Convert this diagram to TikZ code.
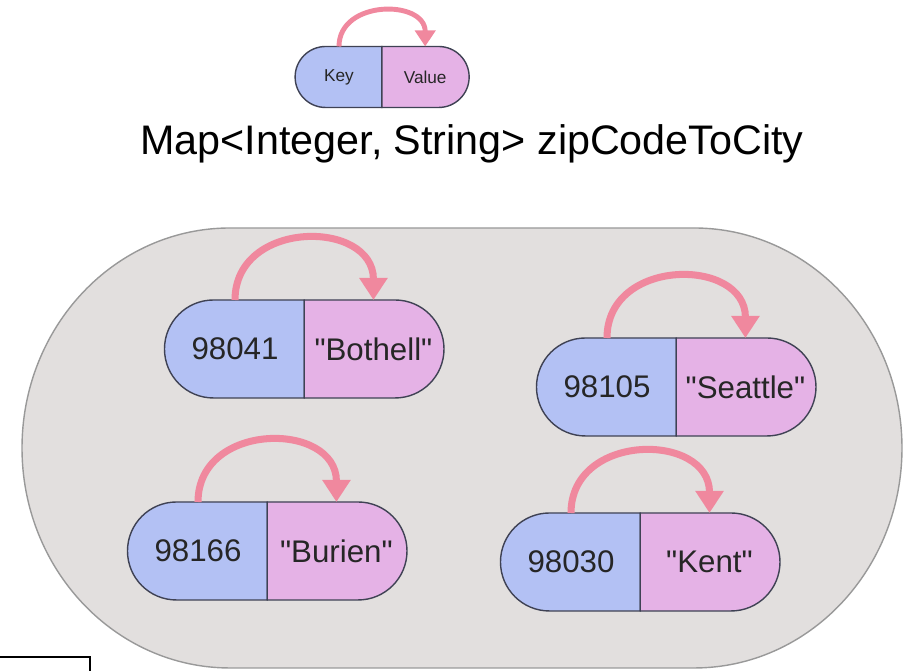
\documentclass[tikz,border=0pt]{standalone}
\usepackage{fontspec}
\setmainfont{Liberation Sans}
\usepackage{xcolor}
\usetikzlibrary{shapes.misc,arrows.meta,positioning}

\definecolor{keyblue}{HTML}{B3C1F4}
\definecolor{valpink}{HTML}{E5B2E6}
\definecolor{pillline}{HTML}{3F4254}
\definecolor{mapgray}{HTML}{E2DFDE}
\definecolor{hookpink}{HTML}{F0889E}

\newcommand{\qt}[1]{\textquotedbl#1\textquotedbl}

\begin{document}
\begin{tikzpicture}[x=0.02cm,y=0.02cm,
		half/.style={rounded rectangle,draw=pillline,line width=0.8pt,outer sep=0pt,
			minimum width=3.03cm,minimum height=1.96cm,text=black!85,
			font=\fontsize{17.8}{20}\selectfont},
		keyhalf/.style={half,fill=keyblue,rounded rectangle right arc=none},
		valhalf/.style={half,fill=valpink,rounded rectangle left arc=none},
		hook/.style={hookpink,line width=4pt,-{Triangle[width=0.54cm,length=0.44cm]},
			out=90,in=90,looseness=1.5}]
		\clip (0,0) rectangle (904,671);
		\node[keyhalf,minimum width=1.97cm,minimum height=1.22cm,font=\fontsize{9.8}{12}\selectfont] (k0) at (339,594) {Key};
		\node[valhalf,minimum width=1.98cm,minimum height=1.22cm,font=\fontsize{9.8}{12}\selectfont,right=0pt of k0] (v0) {Value};
		\draw[hook,line width=2.8pt,-{Triangle[width=0.4cm,length=0.32cm]},looseness=1.4] (k0.north) to (v0.north);
		\node (title) at (472,527) {\fontsize{23.5}{27}\selectfont Map<Integer, String> zipCodeToCity};
		\draw[draw=black!40,fill=mapgray,line width=0.8pt] (230,443) -- (694,443)
			arc[start angle=90,end angle=-90,x radius=208,y radius=220] -- (230,3)
			arc[start angle=270,end angle=90,x radius=208,y radius=220] -- cycle;
		\draw[line width=1.2pt,fill=white] (-5,-10) rectangle (90,14);
		\node[keyhalf] (k1) at (235,322) {98041};
		\node[valhalf,right=0pt of k1] (v1) {\qt{Bothell}};
		\node[keyhalf] (k2) at (607,284) {98105};
		\node[valhalf,right=0pt of k2] (v2) {\qt{Seattle}};
		\node[keyhalf] (k3) at (198,120) {98166};
		\node[valhalf,right=0pt of k3] (v3) {\qt{Burien}};
		\node[keyhalf] (k4) at (571,109) {98030};
		\node[valhalf,right=0pt of k4] (v4) {\qt{Kent}};
		\foreach \i in {1,...,4}
			\draw[hook] (k\i.north) to (v\i.north);
	\end{tikzpicture}
\end{document}
